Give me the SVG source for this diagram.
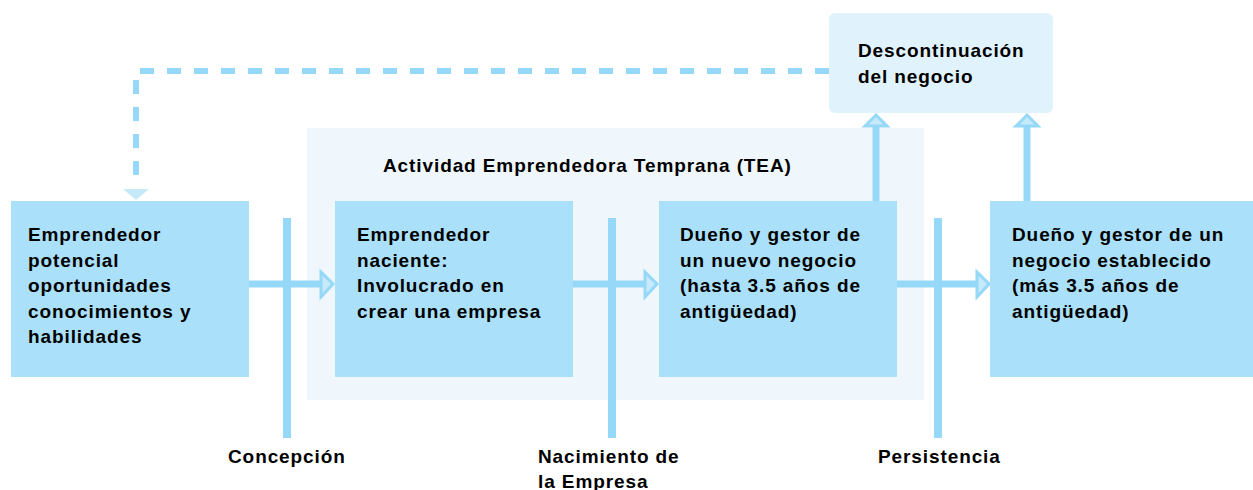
<svg xmlns="http://www.w3.org/2000/svg" width="1253" height="490" viewBox="0 0 1253 490">
<style>
.box{fill:#aae0fa}
.t{font-family:"Liberation Sans",Arial,sans-serif;font-weight:bold;font-size:19px;letter-spacing:0.9px;fill:#000}
.ln{stroke:#95d8f7;stroke-width:7;fill:none}
.bar{fill:#95d8f7}
.head{fill:#c6eafa;stroke:#95d8f7;stroke-width:3;stroke-linejoin:miter}
.dash{stroke:#95d8f7;stroke-width:6;fill:none;stroke-dasharray:14 13}
</style>
<rect width="1253" height="490" fill="#fff"/>
<g id="tea">
<rect x="307" y="128" width="617" height="272" fill="#eff7fd"/>
<text class="t" x="383" y="172">Actividad Emprendedora Temprana (TEA)</text>
</g>
<g id="discontinuacion">
<rect x="829" y="13" width="224" height="100" rx="6" fill="#e0f2fc"/>
<text class="t" x="858" y="57">Descontinuación</text>
<text class="t" x="858" y="83">del negocio</text>
</g>
<g id="connectors">
<path class="dash" d="M829 71 H136 V186"/>
<polygon points="123,189 149,189 136,200" fill="#c6eafa"/>
<line class="ln" x1="249" y1="284" x2="322" y2="284"/>
<polygon class="head" points="321,272 333,284 321,297"/>
<line class="ln" x1="573" y1="284" x2="646" y2="284"/>
<polygon class="head" points="645,272 657,284 645,297"/>
<line class="ln" x1="897" y1="284" x2="978" y2="284"/>
<polygon class="head" points="977,272 989,284 977,297"/>
<line class="ln" x1="876" y1="201" x2="876" y2="125"/>
<polygon class="head" points="865,126 876,115 887,126"/>
<line class="ln" x1="1027" y1="201" x2="1027" y2="125"/>
<polygon class="head" points="1016,126 1027,115 1038,126"/>
<rect class="bar" x="283" y="218" width="8" height="220"/>
<rect class="bar" x="608" y="218" width="8" height="220"/>
<rect class="bar" x="934" y="218" width="8" height="220"/>
</g>
<g id="box1">
<rect class="box" x="11" y="201" width="238" height="176"/>
<text class="t" x="28" y="241">Emprendedor</text>
<text class="t" x="28" y="267">potencial</text>
<text class="t" x="28" y="292">oportunidades</text>
<text class="t" x="28" y="318">conocimientos y</text>
<text class="t" x="28" y="343">habilidades</text>
</g>
<g id="box2">
<rect class="box" x="335" y="201" width="238" height="176"/>
<text class="t" x="357" y="241">Emprendedor</text>
<text class="t" x="357" y="267">naciente:</text>
<text class="t" x="357" y="292">Involucrado en</text>
<text class="t" x="357" y="318">crear una empresa</text>
</g>
<g id="box3">
<rect class="box" x="659" y="201" width="238" height="176"/>
<text class="t" x="680" y="241">Dueño y gestor de</text>
<text class="t" x="680" y="267">un nuevo negocio</text>
<text class="t" x="680" y="292">(hasta 3.5 años de</text>
<text class="t" x="680" y="318">antigüedad)</text>
</g>
<g id="box4">
<rect class="box" x="990" y="201" width="263" height="176"/>
<text class="t" x="1012" y="241">Dueño y gestor de un</text>
<text class="t" x="1012" y="267">negocio establecido</text>
<text class="t" x="1012" y="292">(más 3.5 años de</text>
<text class="t" x="1012" y="318">antigüedad)</text>
</g>
<g id="labels">
<text class="t" x="228" y="463">Concepción</text>
<text class="t" x="538" y="463">Nacimiento de</text>
<text class="t" x="538" y="488">la Empresa</text>
<text class="t" x="878" y="463">Persistencia</text>
</g>
</svg>
